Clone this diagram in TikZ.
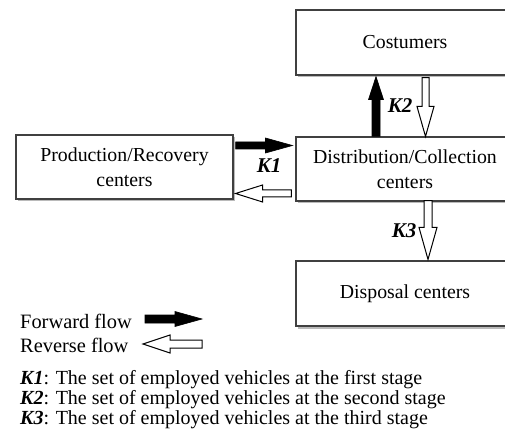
\documentclass[tikz,border=0pt]{standalone}
\usepackage{fontspec}
\setmainfont{Liberation Serif}
\usetikzlibrary{shadows,calc,arrows.meta}
\newcommand\flowarrow[6]{%
  \path[#1] let \p1=(#2), \p2=(#3), \n1={atan2(\y2-\y1,\x2-\x1)}, \n2={veclen(\x2-\x1,\y2-\y1)} in
    [shift={(\p1)}, rotate=\n1]
    (0pt,#4pt) -- ({\n2-#6pt},#4pt) -- ({\n2-#6pt},#5pt) -- (\n2,0pt)
    -- ({\n2-#6pt},-#5pt) -- ({\n2-#6pt},-#4pt) -- (0pt,-#4pt) -- cycle;}
\begin{document}
\begin{tikzpicture}[x=1pt,y=-1pt,
  box/.style={draw=black!75, line width=1.1pt, fill=white, rectangle, inner sep=0pt,
    drop shadow={shadow xshift=2pt, shadow yshift=-2.5pt, fill=black!45, opacity=0.6},
    align=center, font=\fontsize{19.8}{25}\selectfont},
  txt/.style={inner sep=0pt, font=\fontsize{20.4}{24}\selectfont},
  dtxt/.style={inner sep=0pt, font=\fontsize{20}{24}\selectfont},
  klab/.style={inner sep=0pt, font=\fontsize{21}{24}\selectfont\bfseries\itshape},
  fwd/.style={fill=black, draw=black, line width=0.6pt},
  rev/.style={fill=white, draw=black, line width=1pt}]
\useasboundingbox[fill=white] (0,0) rectangle (505,443);

\node[box, minimum width=217pt, minimum height=64pt] (pr) at (124.5,167) {Production/Recovery\\centers};
\node[box, minimum width=218pt, minimum height=65pt] (cu) at (405,42.5) {Costumers};
\node[box, minimum width=218pt, minimum height=64pt] (dc) at (405,169) {Distribution/Collection\\centers};
\node[box, minimum width=218pt, minimum height=65pt] (dp) at (405,293.5) {Disposal centers};

% K1
\coordinate (k1fs) at (pr.east |- 0,145.5);
\coordinate (k1fe) at (dc.west |- 0,145.5);
\flowarrow{fwd}{$(k1fs)+(2,0)$}{$(k1fe)+(-3,0)$}{3.5}{7.5}{27}
\coordinate (k1rs) at (dc.west |- 0,193.5);
\coordinate (k1re) at (pr.east |- 0,193.5);
\flowarrow{rev}{$(k1rs)+(-4,0)$}{$(k1re)+(2,0)$}{3.5}{8.5}{27}
\node[klab] (k1) at (269,166) {K1};

% K2
\coordinate (k2fs) at (376,0 |- dc.north);
\coordinate (k2fe) at (376,0 |- cu.south);
\flowarrow{fwd}{k2fs}{$(k2fe)+(0,1)$}{4}{7.5}{23}
\coordinate (k2rs) at (425.5,0 |- cu.south);
\coordinate (k2re) at (425.5,0 |- dc.north);
\flowarrow{rev}{$(k2rs)+(0,2)$}{k2re}{3.5}{8.5}{30}
\node[klab] (k2) at (400,106) {K2};

% K3
\coordinate (k3rs) at (428,0 |- dc.south);
\coordinate (k3re) at (428,0 |- dp.north);
\flowarrow{rev}{$(k3rs)+(0,-1)$}{$(k3re)+(0,-1)$}{4}{9}{32}
\node[klab] (k3) at (404,231) {K3};

% legend
\node[txt, anchor=west] (lf) at (20,321) {Forward flow};
\node[txt, anchor=west] (lr) at (20,345) {Reverse flow};
\coordinate (lfs) at (145,319);
\coordinate (lfe) at (202,319);
\flowarrow{fwd}{lfs}{lfe}{4}{7.5}{27}
\coordinate (lrs) at (202,344);
\coordinate (lre) at (143,344);
\flowarrow{rev}{lrs}{lre}{4}{9}{27}

\node[dtxt, anchor=base west] (d1) at (20,384) {\textbf{\textit{K1}}: The set of employed vehicles at the first stage};
\node[dtxt, anchor=base west] (d2) at (20,404) {\textbf{\textit{K2}}: The set of employed vehicles at the second stage};
\node[dtxt, anchor=base west] (d3) at (20,424) {\textbf{\textit{K3}}: The set of employed vehicles at the third stage};
\end{tikzpicture}
\end{document}
